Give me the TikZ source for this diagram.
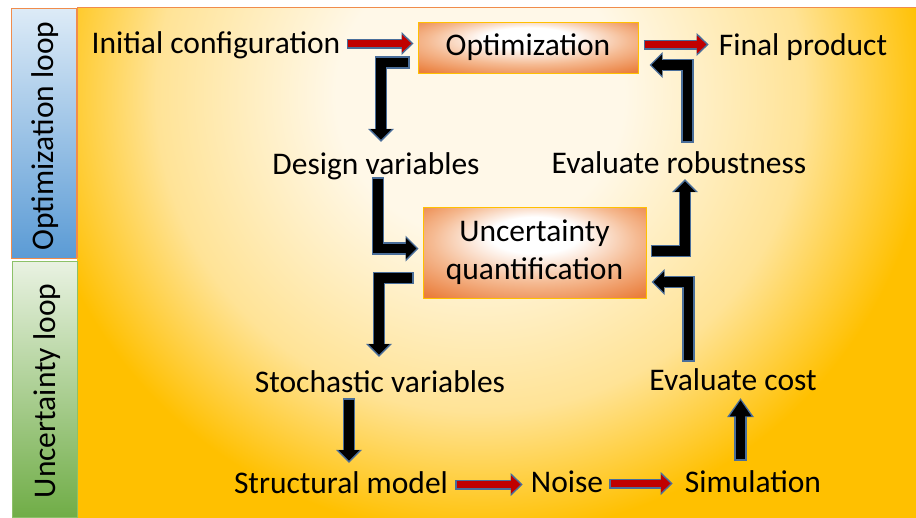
\documentclass[tikz,border=0pt]{standalone}
\usepackage{fontspec}
\setmainfont{Carlito}
\usetikzlibrary{arrows.meta,calc}
\definecolor{bgcenter}{HTML}{FFF8E8}
\definecolor{bgmid}{HTML}{FFE396}
\definecolor{bggold}{HTML}{FFC000}
\definecolor{panelborder}{HTML}{F08C4C}
\definecolor{boxorange}{HTML}{EA7E3C}
\definecolor{boxmid}{HTML}{F5BA92}
\definecolor{boxborder}{HTML}{FFC000}
\definecolor{bluetop}{HTML}{DDEBF7}
\definecolor{bluebot}{HTML}{5B9BD5}
\definecolor{greentop}{HTML}{E9F2E2}
\definecolor{greenbot}{HTML}{70AD47}
\definecolor{greenborder}{HTML}{8CC168}
\definecolor{arrowline}{HTML}{4A6E9A}
\definecolor{arrowred}{HTML}{C00000}
\pgfdeclareradialshading{bgshade}{\pgfpoint{0bp}{0bp}}{color(0bp)=(bgcenter); color(8bp)=(bgcenter); color(18bp)=(bgmid); color(25bp)=(bggold); color(50bp)=(bggold)}
\pgfdeclareradialshading{boxshade}{\pgfpoint{0bp}{12bp}}{color(0bp)=(white); color(10bp)=(white); color(23bp)=(boxmid); color(36bp)=(boxorange); color(50bp)=(boxorange)}
\newcommand\blockarrow[1]{\draw[blkout] #1; \draw[blkin] #1;}
\newcommand\blockarrowlong[1]{\draw[blkout, -{Triangle[length=19pt 0 0, width=27pt 0 0, line width=0pt 0 0]}] #1; \draw[blkin, -{Triangle[length=16pt 0 0, width=22pt 0 0, line width=0pt 0 0]}] #1;}
\newcommand\redarrow[1]{\draw[redout] #1; \draw[redin] #1;}
\tikzset{
  lbl/.style={font=\fontsize{31.5}{38}\selectfont, inner sep=0pt, text height=22pt, text depth=7pt, anchor=base},
  sidelbl/.style={font=\fontsize{31.5}{38}\selectfont, inner sep=0pt, rotate=90, anchor=base},
  procbox/.style={shade, shading=boxshade, draw=boxborder, line width=1pt, inner sep=0pt, align=center, font=\fontsize{31.5}{38}\selectfont},
  blkout/.style={line width=12.5pt, draw=arrowline, -{Triangle[length=13pt 0 0, width=26pt 0 0, line width=0pt 0 0]}},
  blkin/.style={line width=9.5pt, draw=black, shorten >=2.2pt, shorten <=1.5pt, -{Triangle[length=10.5pt 0 0, width=21pt 0 0, line width=0pt 0 0]}},
  redout/.style={line width=10pt, draw=arrowline, -{Triangle[length=12pt 0 0, width=23pt 0 0, line width=0pt 0 0]}},
  redin/.style={line width=7pt, draw=arrowred, shorten >=2.2pt, shorten <=1.5pt, -{Triangle[length=9.5pt 0 0, width=18pt 0 0, line width=0pt 0 0]}},
}
\begin{document}
\begin{tikzpicture}[x=1pt,y=-1pt]
\useasboundingbox (0,0) rectangle (916,517);
\fill[white] (0,0) rectangle (916,517);
% main panel
\begin{scope}
  \clip (77,7) rectangle (916,517);
  \shade[shading=bgshade] (30,-345) rectangle (930,535);
\end{scope}
\draw[panelborder, line width=1pt] (916,7) -- (77,7) -- (77,258);
% side panels
\shade[top color=bluetop, bottom color=bluebot] (11,8) rectangle (76,258);
\draw[panelborder, line width=1pt] (11,8) rectangle (76,258);
\shade[top color=greentop, bottom color=greenbot] (12,261) rectangle (77,517);
\draw[greenborder, line width=1pt] (12,261) rectangle (77,517);
\node[sidelbl] (optloop) at (53,136) {Optimization loop};
\node[sidelbl] (uncloop) at (55,391) {Uncertainty loop};
% nodes
\node[procbox, minimum width=220pt, minimum height=51pt] (opt) at (528,47.5) {Optimization};
\node[procbox, minimum width=223pt, minimum height=91pt] (uq) at (534.5,252.5) {Uncertainty\\quantification};
\node[lbl] (init) at (216,53) {Initial configuration};
\node[lbl] (final) at (803,55) {Final product};
\node[lbl] (design) at (376,174) {Design variables};
\node[lbl] (robust) at (679,173) {Evaluate robustness};
\node[lbl] (stoch) at (380,392) {Stochastic variables};
\node[lbl] (cost) at (733,390) {Evaluate cost};
\node[lbl] (struct) at (341,493) {Structural model};
\node[lbl] (noise) at (567,492) {Noise};
\node[lbl] (sim) at (753,492) {Simulation};
% red arrows
\redarrow{($(init.east)+(6,-2)$) -- ($(opt.west)+(-4,-4)$)}
\redarrow{($(opt.east)+(5,-3)$) -- ($(final.west)+(-10,-3)$)}
\redarrow{($(struct.east)+(7,-1)$) -- ($(noise.west)+(-8,0)$)}
\redarrow{($(noise.east)+(6,-1)$) -- ($(sim.west)+(-12,-1)$)}
% black block arrows
\blockarrow{($(opt.west)+(-8,15)$) -| ($(design.north)+(5,-10)$)}
\blockarrow{($(design.south)+(2,-4)$) |- ($(uq.west)+(-4,-4)$)}
\blockarrow{($(uq.east)+(4,-1.5)$) -| ($(robust.south)+(6,-1)$)}
\blockarrow{($(robust.north)+(8.5,-8)$) |- ($(opt.east)+(11,17.5)$)}
\blockarrow{($(uq.west)+(-9,25.5)$) -| ($(stoch.north)+(-1,-13)$)}
\blockarrow{($(cost.north)+(-44.5,-6)$) |- ($(uq.east)+(5,29.5)$)}
\blockarrow{($(stoch.south)+(-31,-1)$) -- ($(struct.north)+(8,-8)$)}
\blockarrowlong{($(sim.north)+(-12.5,-9)$) -- ($(cost.south)+(7.5,1)$)}
\end{tikzpicture}
\end{document}
